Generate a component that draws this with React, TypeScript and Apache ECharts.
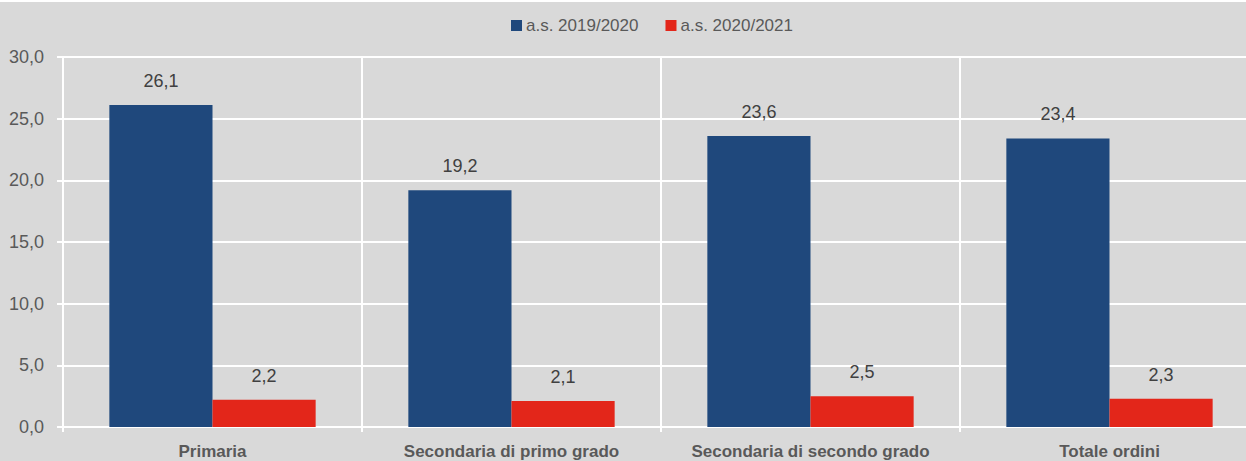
import React, { useEffect, useRef } from "react";
import * as echarts from "echarts";

const categories = [
  "Primaria",
  "Secondaria di primo grado",
  "Secondaria di secondo grado",
  "Totale ordini",
];
const series2019 = [26.1, 19.2, 23.6, 23.4];
const series2020 = [2.2, 2.1, 2.5, 2.3];
const seriesNames = ["a.s. 2019/2020", "a.s. 2020/2021"];

const FONT = '"Liberation Sans Narrow", "Arial Narrow", "Liberation Sans", Arial, sans-serif';
const fmt = (v: number) => v.toFixed(1).replace(".", ",");

export default function App() {
  const ref = useRef<HTMLDivElement>(null);
  useEffect(() => {
    document.body.style.margin = "0";
    const chart = echarts.init(ref.current!, null, { renderer: "svg" });
    chart.setOption({
      animation: false,
      backgroundColor: "#d9d9d9",
      legend: {
        top: 15,
        left: 511,
        padding: 0,
        itemWidth: 11,
        itemHeight: 11,
        itemGap: 27,
        icon: "rect",
        textStyle: { fontFamily: FONT, fontSize: 17, color: "#595959", padding: [0, 0, 0, -1] },
        data: seriesNames,
      },
      grid: { left: 63, top: 55, bottom: 34, width: 1196, outerBoundsMode: "none", containLabel: false },
      xAxis: {
        type: "category",
        data: categories,
        axisLine: { lineStyle: { color: "#ffffff", width: 2 } },
        axisTick: { show: true, interval: 0, length: 5, lineStyle: { color: "#ffffff", width: 2 } },
        splitLine: { show: true, interval: 0, lineStyle: { color: "#ffffff", width: 2 } },
        axisLabel: {
          interval: 0,
          fontFamily: FONT,
          fontSize: 17,
          fontWeight: "bold",
          color: "#595959",
          margin: 16,
        },
      },
      yAxis: {
        type: "value",
        min: 0,
        max: 30,
        interval: 5,
        axisLine: { show: true, lineStyle: { color: "#ffffff", width: 2 } },
        axisTick: { show: true, length: 6, lineStyle: { color: "#ffffff", width: 2 } },
        splitLine: { show: true, lineStyle: { color: "#ffffff", width: 2 } },
        axisLabel: {
          fontFamily: FONT,
          fontSize: 18,
          color: "#595959",
          margin: 19,
          formatter: (v: number) => fmt(v),
        },
      },
      series: [
        {
          name: seriesNames[0],
          type: "bar",
          data: series2019,
          barGap: "0%",
          barCategoryGap: "31%",
          itemStyle: { color: "#1f487c" },
          label: {
            show: true,
            position: "top",
            distance: 15,
            fontFamily: FONT,
            fontSize: 18,
            color: "#404040",
            formatter: (p: any) => fmt(p.value),
          },
        },
        {
          name: seriesNames[1],
          type: "bar",
          data: series2020,
          itemStyle: { color: "#e3261a" },
          label: {
            show: true,
            position: "top",
            distance: 15,
            fontFamily: FONT,
            fontSize: 18,
            color: "#404040",
            formatter: (p: any) => fmt(p.value),
          },
        },
      ],
    });
    return () => chart.dispose();
  }, []);
  return (
    <div style={{ position: "fixed", left: 0, top: 0, width: 1246, height: 461, background: "#ffffff" }}>
      <div ref={ref} style={{ position: "absolute", left: 0, top: 2, width: 1246, height: 459 }} />
    </div>
  );
}
